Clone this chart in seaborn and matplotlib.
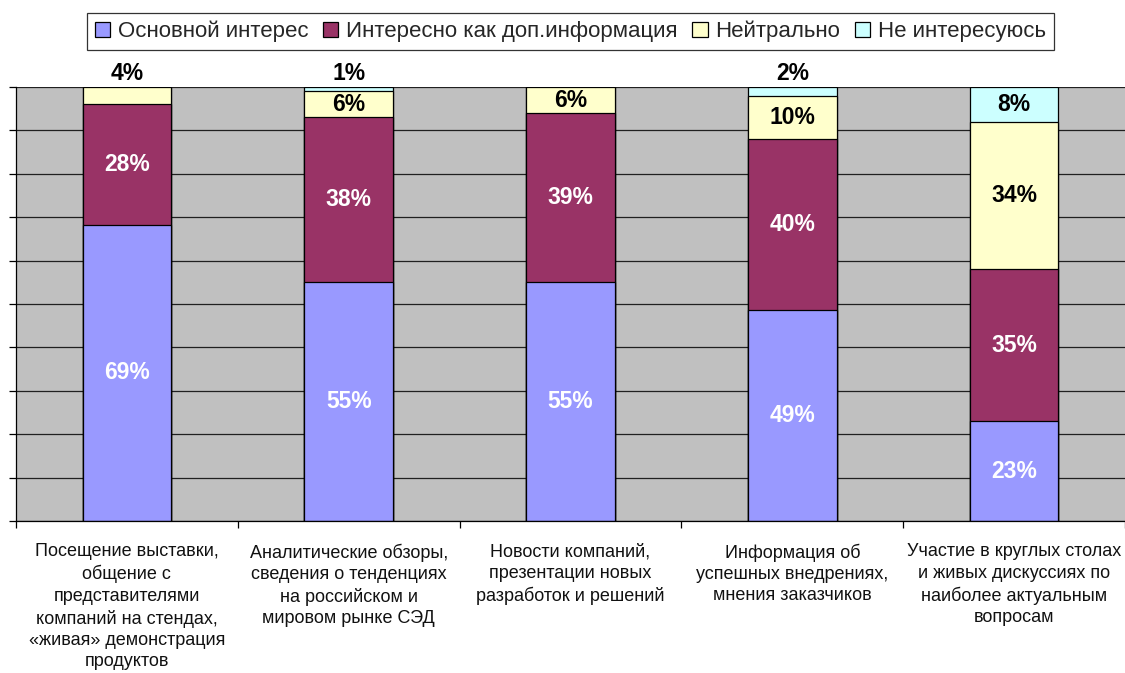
import matplotlib
import numpy as np
import pandas as pd

matplotlib.use("Agg")
import matplotlib.pyplot as plt
import seaborn as sns
from matplotlib.patches import Patch


CATEGORIES = [
    "Посещение выставки,\nобщение с\nпредставителями\nкомпаний на стендах,\n«живая» демонстрация\nпродуктов",
    "Аналитические обзоры,\nсведения о тенденциях\nна российском и\nмировом рынке СЭД",
    "Новости компаний,\nпрезентации новых\nразработок и решений",
    "Информация об\nуспешных внедрениях,\nмнения заказчиков",
    "Участие в круглых столах\nи живых дискуссиях по\nнаиболее актуальным\nвопросам",
]
SERIES_NAMES = ["Основной интерес", "Интересно как доп.информация", "Нейтрально", "Не интересуюсь"]
MAIN_INTEREST = [69, 55, 55, 49, 23]
EXTRA_INFO = [28, 38, 39, 40, 35]
NEUTRAL = [4, 6, 6, 10, 34]
NOT_INTERESTED = [0, 1, 0, 2, 8]

COLORS = ["#9999FF", "#993366", "#FFFFCC", "#CCFFFF"]
TEXT_COLORS = ["white", "white", "black", "black"]
FONT = ["Liberation Sans", "DejaVu Sans"]


def main() -> None:
    sns.set_theme(style="white")
    plt.rcParams["font.family"] = FONT

    values = np.array([MAIN_INTEREST, EXTRA_INFO, NEUTRAL, NOT_INTERESTED], dtype=float)
    shares = values / values.sum(axis=0)
    cum = shares.cumsum(axis=0)
    starts = cum - shares

    fig = plt.figure(figsize=(11.25, 6.73), dpi=100)
    ax = fig.add_axes([0.0142, 0.2259, 0.9858, 0.6448])
    ax.set_facecolor("#C0C0C0")
    ax.set_axisbelow(True)

    # layered cumulative bars, top series first
    for i in range(len(SERIES_NAMES) - 1, -1, -1):
        df = pd.DataFrame({"cat": CATEGORIES, "share": cum[i]})
        sns.barplot(
            data=df,
            x="cat",
            y="share",
            color=COLORS[i],
            saturation=1,
            edgecolor="black",
            linewidth=0.9,
            width=0.4,
            errorbar=None,
            ax=ax,
        )

    for i in range(len(SERIES_NAMES)):
        for j in range(len(CATEGORIES)):
            v = values[i, j]
            if v <= 0:
                continue
            if v < 5:
                y = 1.032
                color = "black"
            else:
                y = starts[i, j] + shares[i, j] / 2
                color = TEXT_COLORS[i]
            ax.text(j, y, f"{int(v)}%", ha="center", va="center", fontsize=16.5,
                    fontweight="bold", color=color, clip_on=False)

    ax.set_xlim(-0.5, 4.5)
    ax.set_ylim(0, 1)
    ax.set_yticks(np.arange(0, 1.01, 0.1))
    ax.set_yticklabels([])
    ax.grid(axis="y", color="#202020", linewidth=0.9)
    ax.set_xlabel("")
    ax.set_ylabel("")

    ax.set_xticks(range(len(CATEGORIES)))
    ax.set_xticklabels(CATEGORIES, fontsize=13, color="#111111")
    for label in ax.get_xticklabels():
        label.set_linespacing(1.34)
    ax.set_xticks(np.arange(-0.5, 4.6, 1), minor=True)
    ax.tick_params(axis="x", which="major", length=0, pad=16)
    ax.tick_params(axis="x", which="minor", length=5, width=0.9, direction="out", color="black", bottom=True)
    ax.tick_params(axis="y", which="major", length=5, width=0.9, direction="out", color="black", left=True)

    for side in ["top", "right"]:
        ax.spines[side].set_visible(False)
    for side in ["left", "bottom"]:
        ax.spines[side].set_color("black")
        ax.spines[side].set_linewidth(0.9)

    handles = [Patch(facecolor=c, edgecolor="black", linewidth=0.9) for c in COLORS]
    leg = fig.legend(
        handles,
        SERIES_NAMES,
        loc="upper center",
        bbox_to_anchor=(0.507, 0.981),
        ncol=4,
        fontsize=16,
        frameon=True,
        fancybox=False,
        handlelength=0.7,
        handleheight=0.7,
        handletextpad=0.35,
        columnspacing=0.65,
        borderpad=0.35,
        borderaxespad=0,
    )
    leg.get_frame().set_edgecolor("black")
    leg.get_frame().set_linewidth(0.9)

    fig.savefig("out.png", dpi=100, facecolor="white")
    plt.close(fig)


if __name__ == "__main__":
    main()
